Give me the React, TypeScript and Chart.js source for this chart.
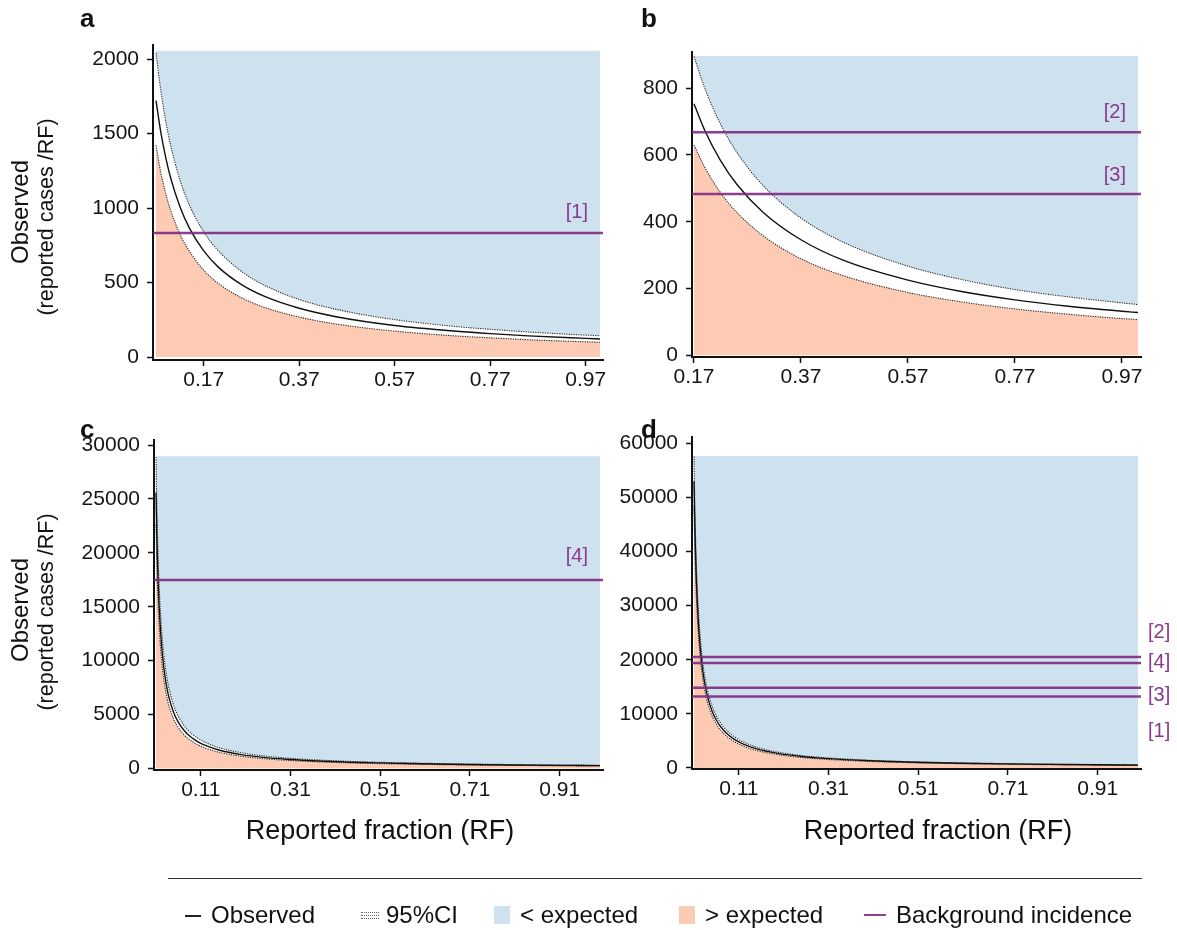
import React, { useEffect, useRef } from "react";
import { Chart, registerables } from "chart.js";

Chart.register(...registerables);

const FONT = "'Liberation Sans', Arial, Helvetica, sans-serif";
const BLUE = "#cee1ee";
const SALMON = "#fdcab3";
const PURPLE = "rgba(128,42,128,0.9)";
const PURPLE_TXT = "#8a3a8c";

// ---------- Panel a ----------
const RF_A = [0.07, 0.08, 0.09, 0.10, 0.12, 0.14, 0.17, 0.20, 0.25, 0.30, 0.37, 0.45, 0.57, 0.70, 0.77, 0.85, 0.97, 1.00];
const OBS_A = [1720, 1510, 1345, 1210, 1010, 865, 712, 605, 484, 403, 327, 269, 212, 173, 157, 142, 125, 121];
const UP_A = [2040, 1790, 1590, 1430, 1190, 1020, 840, 715, 572, 477, 386, 318, 251, 204, 186, 168, 147, 143];
const LOW_A = [1420, 1240, 1100, 990, 825, 710, 582, 495, 396, 330, 268, 220, 174, 141, 129, 116, 102, 99];
const BG_A = [832];
const X_TICKS_A = [0.17, 0.37, 0.57, 0.77, 0.97];
const Y_TICKS_A = [0, 500, 1000, 1500, 2000];

// ---------- Panel b ----------
const RF_B = [0.17, 0.19, 0.22, 0.25, 0.30, 0.37, 0.45, 0.57, 0.67, 0.77, 0.87, 0.97, 1.00];
const OBS_B = [753, 674, 582, 512, 427, 346, 284, 225, 191, 166, 147, 132, 128];
const UP_B = [895, 800, 691, 608, 507, 411, 338, 267, 227, 197, 175, 157, 152];
const LOW_B = [629, 563, 486, 428, 357, 289, 238, 188, 160, 139, 123, 110, 107];
const BG_B = [668, 483];
const X_TICKS_B = [0.17, 0.37, 0.57, 0.77, 0.97];
const Y_TICKS_B = [0, 200, 400, 600, 800];

// ---------- Panel c ----------
const RF_C = [0.01, 0.0115, 0.013, 0.015, 0.0175, 0.02, 0.025, 0.03, 0.035, 0.04, 0.05, 0.06, 0.07, 0.08, 0.10, 0.12, 0.15, 0.20, 0.25, 0.30, 0.40, 0.50, 0.60, 0.70, 0.80, 0.90, 1.00];
const OBS_C = [25600, 22260, 19690, 17070, 14630, 12800, 10240, 8530, 7310, 6400, 5120, 4270, 3660, 3200, 2560, 2130, 1710, 1280, 1020, 853, 640, 512, 427, 366, 320, 284, 256];
const UP_C = [28900, 25130, 22230, 19270, 16510, 14450, 11560, 9630, 8260, 7230, 5780, 4820, 4130, 3610, 2890, 2410, 1930, 1450, 1160, 963, 723, 578, 482, 413, 361, 321, 289];
const LOW_C = [22600, 19650, 17380, 15070, 12910, 11300, 9040, 7530, 6460, 5650, 4520, 3770, 3230, 2830, 2260, 1880, 1510, 1130, 904, 753, 565, 452, 377, 323, 283, 251, 226];
const BG_C = [17470];
const X_TICKS_C = [0.11, 0.31, 0.51, 0.71, 0.91];
const Y_TICKS_C = [0, 5000, 10000, 15000, 20000, 25000, 30000];

// ---------- Panel d ----------
const RF_D = [0.01, 0.0115, 0.013, 0.015, 0.0175, 0.02, 0.025, 0.03, 0.035, 0.04, 0.05, 0.06, 0.07, 0.08, 0.10, 0.12, 0.15, 0.20, 0.25, 0.30, 0.40, 0.50, 0.60, 0.70, 0.80, 0.90, 1.00];
const OBS_D = [53000, 46090, 40770, 35330, 30290, 26500, 21200, 17670, 15140, 13250, 10600, 8830, 7570, 6630, 5300, 4420, 3530, 2650, 2120, 1770, 1330, 1060, 883, 757, 663, 589, 530];
const UP_D = [57600, 50090, 44310, 38400, 32910, 28800, 23040, 19200, 16460, 14400, 11520, 9600, 8230, 7200, 5760, 4800, 3840, 2880, 2300, 1920, 1440, 1150, 960, 823, 720, 640, 576];
const LOW_D = [48500, 42170, 37310, 32330, 27710, 24250, 19400, 16170, 13860, 12130, 9700, 8080, 6930, 6060, 4850, 4040, 3230, 2430, 1940, 1620, 1210, 970, 808, 693, 606, 539, 485];
const BG_D = [20500, 19390, 14810, 13200];
const X_TICKS_D = [0.11, 0.31, 0.51, 0.71, 0.91];
const Y_TICKS_D = [0, 10000, 20000, 30000, 40000, 50000, 60000];

const W = 1177;
const H = 930;
const YW = 90;
const XH = 40;

type Panel = {
  rf: number[]; obs: number[]; up: number[]; low: number[]; bg: number[];
  xTicks: number[]; yTicks: number[]; xDec: number;
  blueTop: number; xMin: number; xMax: number; yMin: number; yMax: number;
  area: { left: number; right: number; top: number; bottom: number };
};

const PANELS: Panel[] = [
  { rf: RF_A, obs: OBS_A, up: UP_A, low: LOW_A, bg: BG_A, xTicks: X_TICKS_A, yTicks: Y_TICKS_A, xDec: 2,
    blueTop: 2055, xMin: 0.0637, xMax: 1.0063, yMin: -20, yMax: 2094,
    area: { left: 153, right: 603, top: 45, bottom: 360 } },
  { rf: RF_B, obs: OBS_B, up: UP_B, low: LOW_B, bg: BG_B, xTicks: X_TICKS_B, yTicks: Y_TICKS_B, xDec: 2,
    blueTop: 896, xMin: 0.1663, xMax: 1.0056, yMin: -5, yMax: 908,
    area: { left: 692, right: 1141, top: 52, bottom: 357 } },
  { rf: RF_C, obs: OBS_C, up: UP_C, low: LOW_C, bg: BG_C, xTicks: X_TICKS_C, yTicks: Y_TICKS_C, xDec: 2,
    blueTop: 28970, xMin: 0.00554, xMax: 1.0067, yMin: -148, yMax: 30470,
    area: { left: 154, right: 603, top: 440, bottom: 770 } },
  { rf: RF_D, obs: OBS_D, up: UP_D, low: LOW_D, bg: BG_D, xTicks: X_TICKS_D, yTicks: Y_TICKS_D, xDec: 2,
    blueTop: 57670, xMin: 0.00554, xMax: 1.0067, yMin: -185, yMax: 61180,
    area: { left: 692, right: 1141, top: 437, bottom: 769 } },
];

const pts = (xs: number[], ys: number[]) => xs.map((x, i) => ({ x, y: ys[i] }));

function PanelChart({ p }: { p: Panel }) {
  const ref = useRef<HTMLCanvasElement | null>(null);
  useEffect(() => {
    if (!ref.current) return;
    const last = p.rf.length - 1;
    const ci = { borderColor: "#262626", borderWidth: 1.1, borderDash: [1.2, 1.2], pointRadius: 0, cubicInterpolationMode: "monotone", order: 3 };
    const datasets: any[] = [
      { data: [{ x: p.rf[0], y: p.blueTop }, { x: p.rf[last], y: p.blueTop }], borderWidth: 0, borderColor: "rgba(0,0,0,0)", pointRadius: 0, fill: false, order: 5 },
      { data: pts(p.rf, p.up), fill: { target: 0 }, backgroundColor: BLUE, ...ci },
      { data: pts(p.rf, p.low), fill: "origin", backgroundColor: SALMON, ...ci },
      { data: pts(p.rf, p.obs), fill: false, borderColor: "#111", borderWidth: 1.4, pointRadius: 0, cubicInterpolationMode: "monotone", order: 2 },
      ...p.bg.map((v) => ({ data: [{ x: p.xMin, y: v }, { x: p.xMax, y: v }], fill: false, borderColor: PURPLE, borderWidth: 2.5, pointRadius: 0, order: 1 })),
    ];
    const tickFont = { size: 21, family: FONT };
    const chart = new Chart(ref.current, {
      type: "line",
      data: { datasets },
      options: {
        animation: false,
        responsive: false,
        maintainAspectRatio: false,
        devicePixelRatio: 1,
        events: [],
        layout: { padding: { left: p.area.left - YW, top: p.area.top, right: W - p.area.right, bottom: H - p.area.bottom - XH } },
        plugins: { legend: { display: false }, tooltip: { enabled: false }, filler: { drawTime: "beforeDatasetsDraw" } as any },
        scales: {
          x: {
            type: "linear", min: p.xMin, max: p.xMax,
            afterFit: (s: any) => { s.height = XH; },
            afterBuildTicks: (s: any) => { s.ticks = p.xTicks.map((v) => ({ value: v })); },
            ticks: { callback: (v: any) => Number(v).toFixed(p.xDec), font: tickFont, color: "#151515", padding: 2, maxRotation: 0, autoSkip: false },
            grid: { drawOnChartArea: false, drawTicks: true, tickLength: 6, tickWidth: 1.5, tickColor: "#111" },
            border: { display: true, color: "#111", width: 2 },
          },
          y: {
            type: "linear", min: p.yMin, max: p.yMax,
            afterFit: (s: any) => { s.width = YW; },
            afterBuildTicks: (s: any) => { s.ticks = p.yTicks.map((v) => ({ value: v })); },
            ticks: { callback: (v: any) => String(v), font: tickFont, color: "#151515", padding: 8, autoSkip: false },
            grid: { drawOnChartArea: false, drawTicks: true, tickLength: 6, tickWidth: 1.5, tickColor: "#111" },
            border: { display: true, color: "#111", width: 2 },
          },
        },
      } as any,
    });
    return () => chart.destroy();
  }, [p]);
  return (
    <canvas ref={ref} width={W} height={H}
      style={{ position: "absolute", left: 0, top: 0, width: W, height: H }} />
  );
}

type TxtProps = { x: number; y: number; size: number; text: string; align?: "left" | "center" | "right"; bold?: boolean; color?: string; rotate?: boolean };
function Txt({ x, y, size, text, align = "center", bold, color = "#111", rotate }: TxtProps) {
  const tx = align === "center" ? "-50%" : align === "right" ? "-100%" : "0";
  return (
    <div style={{
      position: "absolute", left: x, top: y, fontFamily: FONT, fontSize: size, lineHeight: 1,
      fontWeight: bold ? 700 : 400, color, whiteSpace: "nowrap",
      transform: `translate(${tx}, -50%)${rotate ? " rotate(-90deg)" : ""}`,
      transformOrigin: rotate ? "50% 50%" : undefined,
    }}>{text}</div>
  );
}

export default function App() {
  const legY = 915;
  return (
    <div style={{ position: "absolute", left: 0, top: 0, width: W, height: H, background: "#fff", overflow: "hidden" }}>
      {PANELS.map((p, i) => <PanelChart key={i} p={p} />)}

      {/* panel letters */}
      <Txt x={80} y={18} size={26} text="a" align="left" bold />
      <Txt x={641} y={18} size={26} text="b" align="left" bold />
      <Txt x={80} y={429} size={26} text="c" align="left" bold />
      <Txt x={641} y={429} size={26} text="d" align="left" bold />

      {/* y titles */}
      <Txt x={20} y={212} size={24} text="Observed" rotate />
      <Txt x={47} y={217} size={21.5} text="(reported cases /RF)" rotate />
      <Txt x={20} y={610} size={24} text="Observed" rotate />
      <Txt x={47} y={612} size={21.5} text="(reported cases /RF)" rotate />

      {/* x titles */}
      <Txt x={380} y={830} size={27} text="Reported fraction (RF)" />
      <Txt x={938} y={830} size={27} text="Reported fraction (RF)" />

      {/* background incidence labels */}
      <Txt x={588} y={211} size={20} text="[1]" align="right" color={PURPLE_TXT} />
      <Txt x={1126} y={111} size={20} text="[2]" align="right" color={PURPLE_TXT} />
      <Txt x={1126} y={174} size={20} text="[3]" align="right" color={PURPLE_TXT} />
      <Txt x={588} y={555} size={20} text="[4]" align="right" color={PURPLE_TXT} />
      <Txt x={1148} y={631} size={20} text="[2]" align="left" color={PURPLE_TXT} />
      <Txt x={1148} y={661} size={20} text="[4]" align="left" color={PURPLE_TXT} />
      <Txt x={1148} y={694} size={20} text="[3]" align="left" color={PURPLE_TXT} />
      <Txt x={1148} y={730} size={20} text="[1]" align="left" color={PURPLE_TXT} />

      {/* legend */}
      <div style={{ position: "absolute", left: 168, top: 878, width: 974, height: 1, background: "#333" }} />
      <div style={{ position: "absolute", left: 185, top: legY, width: 16, height: 1.5, background: "#222" }} />
      <Txt x={211} y={legY} size={24} text="Observed" align="left" />
      {[-3, 0, 3].map((d) => (
        <div key={d} style={{ position: "absolute", left: 361, top: legY + d, width: 18, height: 0, borderTop: "1px dotted #666" }} />
      ))}
      <Txt x={386} y={legY} size={24} text="95%CI" align="left" />
      <div style={{ position: "absolute", left: 494, top: legY - 9, width: 16, height: 18, background: BLUE }} />
      <Txt x={520} y={legY} size={24} text="< expected" align="left" />
      <div style={{ position: "absolute", left: 679, top: legY - 9, width: 16, height: 18, background: SALMON }} />
      <Txt x={705} y={legY} size={24} text="> expected" align="left" />
      <div style={{ position: "absolute", left: 864, top: legY - 1, width: 22, height: 2, background: PURPLE }} />
      <Txt x={896} y={legY} size={24} text="Background incidence" align="left" />
    </div>
  );
}
